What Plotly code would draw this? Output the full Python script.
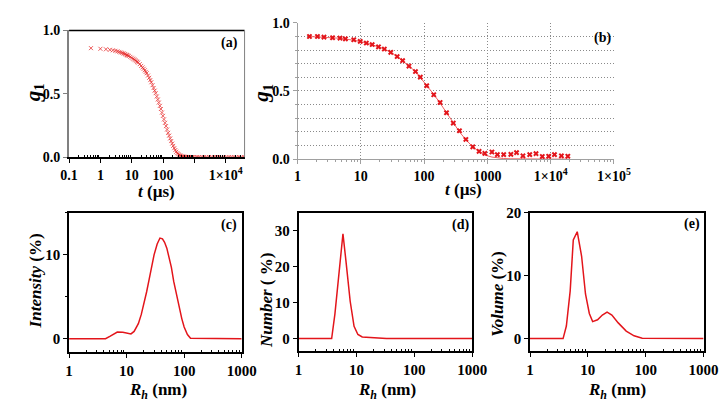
import plotly.graph_objects as go

# ---------------- data ----------------
# panel (a): correlation function g1(t), dense points
ta = [0.5, 1, 1.5, 2, 2.5, 3, 3.5, 4, 4.5, 5,
      5.5, 6, 6.5, 7, 7.5, 8, 9, 10, 11, 12,
      13, 14, 15, 16, 18, 20, 22, 24, 26, 28,
      30, 33, 36, 39, 42, 46, 50, 54, 58, 63,
      68, 73, 79, 85, 92, 99, 107, 115, 124, 134,
      145, 156, 168, 181, 195, 210, 227, 245, 264, 285,
      307, 331, 357, 385, 415, 448, 483, 521, 562, 606,
      653, 704, 760, 820, 880, 1000, 1200, 1400, 1700, 2000,
      2400, 2900, 3500, 4200, 5000, 6000, 7200, 8700, 10500, 12600,
      15200, 18300, 22000, 26500, 32000, 38500]
ga = [.860, .855, .851, .847, .843, .839, .835, .830, .826, .822,
      .818, .814, .809, .805, .802, .798, .791, .784, .777, .771,
      .765, .758, .752, .746, .734, .720, .708, .697, .685, .673,
      .662, .644, .626, .608, .591, .568, .546, .525, .505, .479,
      .455, .431, .405, .380, .352, .326, .298, .271, .245, .218,
      .192, .170, .148, .127, .107, .089, .071, .056, .043, .032,
      .024, .017, .012, .008, .005, .004, .003, .002, .001, .002,
      .001, .000, .001, .000, .001, .000, .001, .000, .001, .000,
      .000, .001, .000, .000, .001, .000, .000, .001, .000, .000,
      .001, .000, .000, .001, .000, .000]

# panel (b): measured g1 points and fitted curve
tb = [1.54, 2.06, 2.61, 3.57, 4.68, 5.7, 7.73, 9.77, 12.2, 15.1,
      19.0, 23.5, 29.7, 37.5, 45.7, 57.6, 73, 87, 110, 142,
      179, 226, 289, 362, 457, 588, 740, 911, 1180, 1440,
      1810, 2350, 2890, 3650, 4670, 5870, 7380, 9300, 11500, 14800,
      18700]
gb = [0.899, 0.899, 0.894, 0.890, 0.887, 0.882, 0.875, 0.863, 0.851, 0.840,
      0.823, 0.807, 0.783, 0.752, 0.722, 0.682, 0.642, 0.601, 0.538, 0.472,
      0.415, 0.340, 0.264, 0.208, 0.144, 0.090, 0.057, 0.042, 0.052, 0.033,
      0.033, 0.035, 0.047, 0.024, 0.033, 0.040, 0.019, 0.021, 0.033, 0.024,
      0.021]
fitb = [0.899, 0.897, 0.894, 0.890, 0.886, 0.881, 0.873, 0.863, 0.851, 0.840,
        0.823, 0.807, 0.783, 0.752, 0.722, 0.682, 0.642, 0.600, 0.540, 0.475,
        0.410, 0.340, 0.267, 0.200, 0.142, 0.090, 0.055, 0.030, 0.015, 0.008,
        0.004, 0.002, 0.001, 0.000, 0.000, 0.000, 0.000, 0.000, 0.000, 0.000,
        0.000]

# panel (c): intensity distribution
Rc = [1, 4.3, 5.2, 6.0, 6.9, 8.6, 10.2, 11.9, 13.5, 16,
      18, 20, 22.3, 24.7, 27.3, 30, 34, 38, 42, 45.7,
      50, 53.5, 60, 66, 74, 82, 91, 100, 114, 129, 1000]
Ic = [0, 0, 0.3, 0.6, 0.8, 0.77, 0.66, 0.57, 0.87, 1.8,
      2.9, 4.1, 5.6, 7.1, 8.6, 10.0, 11.3, 12.0, 11.9, 11.5,
      10.8, 10.0, 8.5, 6.8, 5.1, 3.7, 2.4, 1.4, 0.5, 0.05, 0]

# panel (d): number distribution
Rd = [1, 3.73, 4.25, 5.0, 5.85, 6.6, 7.8, 9.1, 10.6, 12.6, 22, 33, 1000]
Nd = [0, 0, 6.9, 17.5, 29.2, 21.5, 10.4, 3.4, 1.15, 0.44, 0.27, 0.05, 0]

# panel (e): volume distribution
Re = [1, 3.73, 4.25, 4.95, 5.6, 6.55, 7.8, 9.1, 10.6, 12.1,
      14.7, 17.8, 21.5, 26, 33.5, 46, 63, 87, 1000]
Ve = [0, 0, 2.0, 7.6, 15.7, 17.0, 13.1, 7.1, 4.0, 2.7,
      3.0, 3.75, 4.2, 3.75, 2.5, 1.2, 0.45, 0.05, 0]

# tick labels
a_tickvals = [0.1, 1, 10, 100, 1000, 1e4]
a_ticktext = ["0.1", "1", "10", "100", "", "1×10<sup>4</sup>"]
b_tickvals = [1, 10, 100, 1000, 1e4, 1e5]
b_ticktext = ["1", "10", "100", "1000", "1×10<sup>4</sup>", "1×10<sup>5</sup>"]
r_tickvals = [1, 10, 100, 1000]
r_ticktext = ["1", "10", "100", "1000"]

# ---------------- styling ----------------
W, H = 728, 404
FONT = "Liberation Serif"
RED = "#e3151b"
tickfont = dict(family=FONT, size=14, color="black", weight="bold")
tickfont_b = dict(family=FONT, size=15, color="black", weight="bold")


def px_dom_x(x0, x1):
    return [x0 / W, x1 / W]


def px_dom_y(y0, y1):
    return [1 - y1 / H, 1 - y0 / H]


def minor_log(lo, hi):
    vals = []
    d = lo
    while d < hi:
        for k in range(2, 10):
            vals.append(k * d)
        d *= 10
    return vals


fig = go.Figure()

# (a)
fig.add_trace(go.Scatter(x=ta, y=ga, mode="markers", xaxis="x", yaxis="y",
                         marker=dict(symbol="x-thin", size=4, color="rgba(230,40,40,0.75)",
                                     line=dict(width=1, color="rgba(230,40,40,0.75)")),
                         showlegend=False))
# (b)
fig.add_trace(go.Scatter(x=tb, y=fitb, mode="lines", xaxis="x2", yaxis="y2",
                         line=dict(color="#f06060", width=1), showlegend=False))
fig.add_trace(go.Scatter(x=tb, y=gb, mode="markers", xaxis="x2", yaxis="y2",
                         marker=dict(symbol="x", size=5, color=RED), showlegend=False))
# (c), (d), (e)
fig.add_trace(go.Scatter(x=Rc, y=Ic, mode="lines", xaxis="x3", yaxis="y3",
                         line=dict(color=RED, width=1.5), showlegend=False))
fig.add_trace(go.Scatter(x=Rd, y=Nd, mode="lines", xaxis="x4", yaxis="y4",
                         line=dict(color=RED, width=1.5), showlegend=False))
fig.add_trace(go.Scatter(x=Re, y=Ve, mode="lines", xaxis="x5", yaxis="y5",
                         line=dict(color=RED, width=1.5), showlegend=False))

common_x = dict(type="log", tickfont=tickfont, showgrid=False, zeroline=False,
                tickmode="array", ticks="outside", ticklen=4, tickcolor="black")
common_y = dict(tickfont=tickfont, showgrid=False, zeroline=False,
                ticks="outside", ticklen=4, tickcolor="black")
GRID = dict(showgrid=True, gridcolor="#8a8a8a", griddash="1px,2px", gridwidth=1)

layout = dict(
    width=W, height=H, margin=dict(l=0, r=0, t=0, b=0),
    paper_bgcolor="white", plot_bgcolor="white",
    font=dict(family=FONT, color="black"),
    # (a)
    xaxis=dict(common_x, domain=px_dom_x(54, 236), anchor="y", range=[-1, 4.6],
               tickvals=a_tickvals, ticktext=a_ticktext,
               showline=True, linecolor="black", linewidth=1.5,
               minor=dict(tickmode="array", tickvals=minor_log(0.1, 1e5), ticks="inside",
                          ticklen=2, tickcolor="black")),
    yaxis=dict(common_y, domain=px_dom_y(15, 147), anchor="x", range=[0, 1.0],
               tickvals=[0, 0.5, 1.0], ticktext=["0.0", "0.5", "1.0"],
               showline=True, linecolor="#808080", linewidth=2, tickcolor="#808080"),
    # (b)
    xaxis2=dict(common_x, domain=px_dom_x(291, 619), anchor="y2", range=[0, 5],
                tickvals=b_tickvals, ticktext=b_ticktext, **GRID,
                showline=True, linecolor="#a0a0a0", linewidth=1, tickcolor="#a0a0a0",
                minor=dict(tickmode="array", tickvals=minor_log(1, 1e5), ticks="outside",
                           ticklen=2, tickcolor="#a0a0a0")),
    yaxis2=dict(common_y, domain=px_dom_y(7, 149), anchor="x2", range=[0, 1.0],
                tickvals=[0, 0.5, 1.0], ticktext=["0.0", "0.5", "1.0"], **GRID,
                showline=True, linecolor="#a0a0a0", linewidth=1, tickcolor="#a0a0a0",
                minor=dict(dtick=0.1, ticks="outside", ticklen=2, tickcolor="#a0a0a0",
                           showgrid=True, gridcolor="#8a8a8a", griddash="1px,2px",
                           gridwidth=1)),
    # (c)
    xaxis3=dict(common_x, domain=px_dom_x(54, 233), anchor="y3", range=[0, 3],
                tickvals=r_tickvals, ticktext=r_ticktext, tickfont=tickfont_b,
                showline=True, mirror=True, linecolor="black", linewidth=1.5,
                minor=dict(tickmode="array", tickvals=minor_log(1, 1000), ticks="inside",
                           ticklen=2, tickcolor="black")),
    yaxis3=dict(common_y, domain=px_dom_y(205, 350), anchor="x3", range=[-1.6, 15],
                tickvals=[0, 10], ticktext=["0", "10"], tickfont=tickfont_b,
                showline=True, mirror=True, linecolor="black", linewidth=1.5,
                minor=dict(dtick=5, ticks="outside", ticklen=2, tickcolor="black")),
    # (d)
    xaxis4=dict(common_x, domain=px_dom_x(292, 472), anchor="y4", range=[0, 3],
                tickvals=r_tickvals, ticktext=r_ticktext, tickfont=tickfont_b,
                showline=True, mirror=True, linecolor="black", linewidth=1.5,
                minor=dict(tickmode="array", tickvals=minor_log(1, 1000), ticks="inside",
                           ticklen=2, tickcolor="black")),
    yaxis4=dict(common_y, domain=px_dom_y(205, 349), anchor="x4", range=[-3.5, 35],
                tickvals=[0, 10, 20, 30], ticktext=["0", "10", "20", "30"], tickfont=tickfont_b,
                showline=True, mirror=True, linecolor="black", linewidth=1.5),
    # (e)
    xaxis5=dict(common_x, domain=px_dom_x(532, 712), anchor="y5", range=[0, 3],
                tickvals=r_tickvals, ticktext=r_ticktext, tickfont=tickfont_b,
                showline=True, mirror=True, linecolor="black", linewidth=1.5,
                minor=dict(tickmode="array", tickvals=minor_log(1, 1000), ticks="inside",
                           ticklen=2, tickcolor="black")),
    yaxis5=dict(common_y, domain=px_dom_y(205, 349), anchor="x5", range=[-2, 20],
                tickvals=[0, 10, 20], ticktext=["0", "10", "20"], tickfont=tickfont_b,
                showline=True, mirror=True, linecolor="black", linewidth=1.5),
)
fig.update_layout(**layout)

# frame lines for panel (a): top black, right grey
fig.add_shape(type="line", xref="paper", yref="paper",
              x0=54 / W, x1=236 / W, y0=1 - 15 / H, y1=1 - 15 / H,
              line=dict(color="black", width=1.5))
fig.add_shape(type="line", xref="paper", yref="paper",
              x0=236 / W, x1=236 / W, y0=1 - 147 / H, y1=1 - 15 / H,
              line=dict(color="#808080", width=1))


def ann(text, x, y, size, angle=0):
    fig.add_annotation(text=text, x=x / W, y=1 - y / H, xref="paper", yref="paper",
                       showarrow=False, textangle=angle, xanchor="center", yanchor="middle",
                       font=dict(family=FONT, size=size, color="black", weight="bold"))


# axis titles
g1 = "<i>g</i><sub>1</sub>"
ann(g1, 17, 80, 21, -90)
ann(g1, 254, 80, 21, -90)
tlab = "<i>t</i> (µs)"
ann(tlab, 145, 183, 17)
ann(tlab, 463, 181, 17)
rlab = "<i>R<sub>h</sub></i> (nm)"
ann(rlab, 146, 390, 17)
ann(rlab, 384, 390, 17)
ann(rlab, 622, 390, 17)
ann("<i>Intensity</i> (%)", 19, 276, 17, -90)
ann("<i>Number</i> ( %)", 258, 296, 17, -90)
ann("<i>Volume</i> (%)", 498, 290, 17, -90)

# panel labels
ann("(a)", 220, 28, 14)
ann("(b)", 607, 23, 14)
ann("(c)", 220, 218, 14)
ann("(d)", 460, 218, 14)
ann("(e)", 700, 217, 14)

fig.write_html("out.html")
